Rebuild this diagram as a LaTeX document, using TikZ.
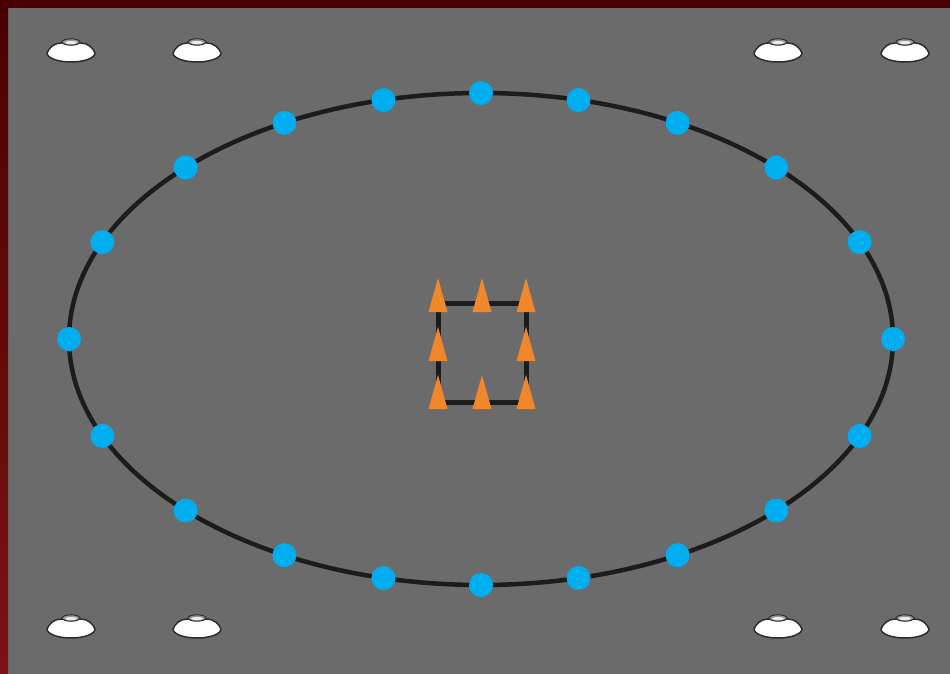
\documentclass[tikz,border=0pt]{standalone}
\usetikzlibrary{calc}
\definecolor{bggray}{RGB}{107,107,107}
\definecolor{maroon}{RGB}{74,0,0}
\definecolor{leftred}{RGB}{125,18,18}
\definecolor{ringcol}{RGB}{28,28,28}
\definecolor{dotblue}{RGB}{0,173,239}
\definecolor{conecol}{RGB}{240,135,42}
\definecolor{lampedge}{RGB}{45,45,45}
\definecolor{capgray}{RGB}{150,150,150}
\tikzset{
  ringline/.style={draw=ringcol, line width=4.5pt},
  dotnode/.style={circle, fill=dotblue, minimum size=24pt, inner sep=0pt},
  frameline/.style={draw=ringcol, line width=5pt},
  conefill/.style={fill=conecol},
  lamp/.pic={
    \fill[white, draw=lampedge, line width=1.5pt]
      (-24,1) .. controls (-22,-4) and (-17,-9) .. (-10,-9) -- (10,-9)
      .. controls (17,-9) and (22,-4) .. (24,1)
      arc[start angle=0, end angle=180, x radius=24, y radius=9] -- cycle;
    \fill[capgray, draw=lampedge, line width=1pt] (0,-10) ellipse [x radius=9, y radius=3.2];
    \fill[white!85!gray] (0,-9.4) ellipse [x radius=6, y radius=1.6];
  }
}
\begin{document}
\begin{tikzpicture}[x=1pt,y=-1pt]
\useasboundingbox (0,0) rectangle (950,674);
\fill[bggray] (0,0) rectangle (950,674);
\shade[top color=maroon, bottom color=leftred] (0,0) rectangle (8,674);
\fill[maroon] (0,0) rectangle (950,8);
% corner lamps
\foreach \cx in {71,197,778,905}{
  \pic at (\cx,52) {lamp};
  \pic at (\cx,628) {lamp};
}
% ring
\coordinate (C) at (481,339);
\draw[ringline] (C) ellipse [x radius=412, y radius=246];
\foreach \a [count=\i] in {0,23.2,44.2,61.5,76.3,90,103.7,118.5,135.8,156.8,180,203.2,224.2,241.5,256.3,270,283.7,298.5,315.8,336.8}{
  \node[dotnode] (d\i) at ({481+412*cos(\a)},{339-246*sin(\a)}) {};
}
% frame
\coordinate (tl) at (438,303);
\coordinate (br) at (526,402);
\draw[frameline] (tl) rectangle (br);
\foreach \x/\y [count=\j] in {438/295,482/295,526/295,438/344,526/344,438/392,482/392,526/392}{
  \coordinate (t\j) at (\x,\y);
  \fill[conefill] ($(t\j)+(0,-17)$) -- ($(t\j)+(9.5,17)$) -- ($(t\j)+(-9.5,17)$) -- cycle;
}
\end{tikzpicture}
\end{document}
